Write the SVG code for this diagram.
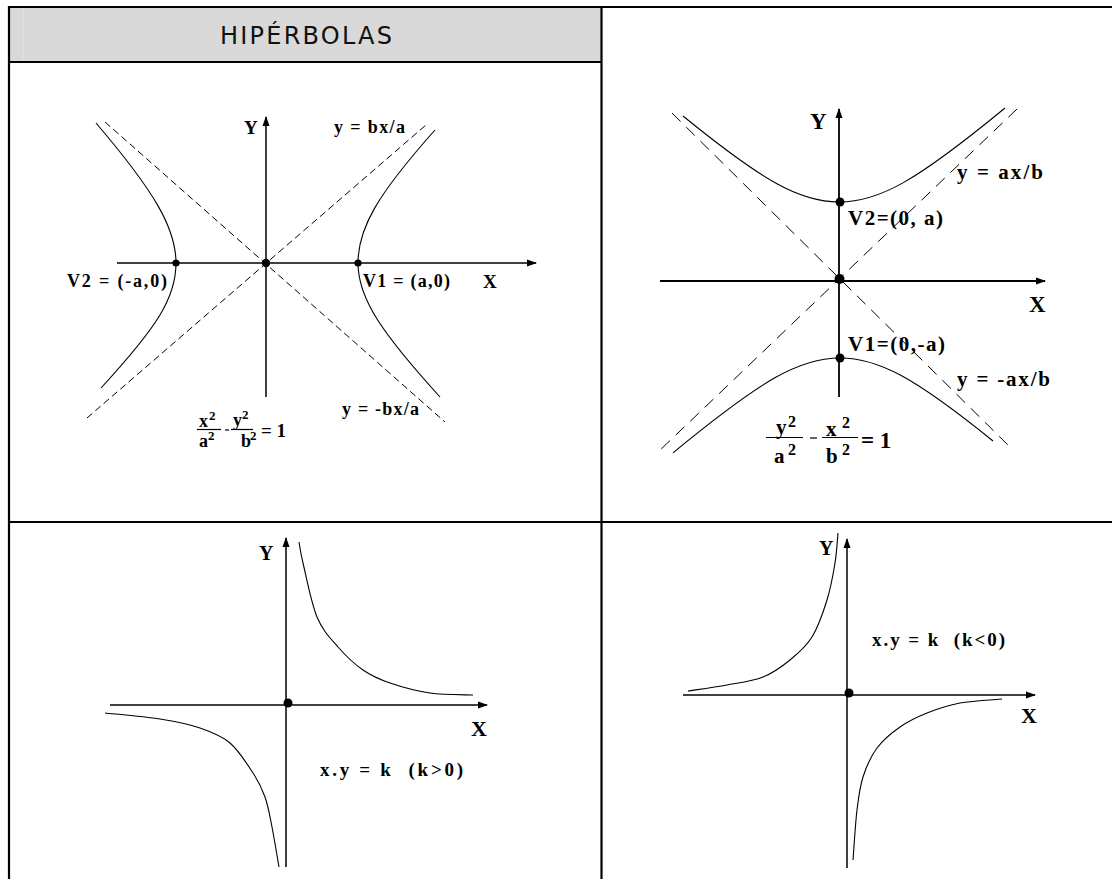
<svg xmlns="http://www.w3.org/2000/svg" width="1112" height="879" viewBox="0 0 1112 879">
<style>
.grid{stroke:#000;stroke-width:2.2;fill:none}
.axis{stroke:#000;stroke-width:1.5;fill:none}
.axis2{stroke:#000;stroke-width:1.8;fill:none}
.curve{stroke:#000;stroke-width:1.1;fill:none}
.dash1{stroke:#000;stroke-width:1;fill:none;stroke-dasharray:7 4}
.dash2{stroke:#000;stroke-width:1;fill:none;stroke-dasharray:12 8}
.lbl{font-family:"Liberation Serif","Times New Roman",serif;font-weight:bold;fill:#000}
.frac{stroke:#000;stroke-width:1.2}
.title{font-family:"DejaVu Sans","Verdana",sans-serif;font-size:24px;fill:#111}
</style>
<defs>
<marker id="arr" markerUnits="userSpaceOnUse" markerWidth="11" markerHeight="8" refX="9" refY="4" orient="auto">
<path d="M0,0.5 L10,4 L0,7.5 z" fill="#000"/>
</marker>
</defs>
<rect width="1112" height="879" fill="#fff"/>

<g id="header">
<rect x="10" y="8" width="591" height="54" fill="#d9d9d9"/>
<line x1="23.5" y1="8" x2="23.5" y2="61" stroke="#e3e3e3" stroke-width="1"/>
<text class="title" x="306" y="44" text-anchor="middle" textLength="172">HIPÉRBOLAS</text>
</g>

<g id="connectors">
<line class="grid" x1="8" y1="7" x2="1112" y2="7"/>
<line class="grid" x1="9" y1="6" x2="9" y2="879"/>
<line class="grid" x1="8" y1="62" x2="602" y2="62"/>
<line class="grid" x1="601.5" y1="6" x2="601.5" y2="879"/>
<line class="grid" x1="8" y1="522" x2="1112" y2="522"/>
</g>

<g id="plot-horizontal-hyperbola">
<path class="axis" d="M117,263 H536" marker-end="url(#arr)"/>
<path class="axis" d="M266,397 V117" marker-end="url(#arr)"/>
<path class="dash1" d="M87,418 L426,125"/>
<path class="dash1" d="M105,122 L445,422"/>
<path class="curve" d="M435,130 C377.5,194.6 358,228 358,263 C358,298 381,332 440,397"/>
<path class="curve" d="M96,123 C154,191 176,228 176,263 C176,298 157,327 101,388"/>
<circle cx="266" cy="263" r="4.2"/>
<circle cx="176" cy="263" r="3.6"/>
<circle cx="358" cy="263" r="3.6"/>
<text class="lbl" x="244" y="134" font-size="19">Y</text>
<text class="lbl" x="334" y="133" font-size="18" textLength="71">y = bx/a</text>
<text class="lbl" x="67" y="287" font-size="18" textLength="100">V2 = (-a,0)</text>
<text class="lbl" x="363" y="287" font-size="18" textLength="87">V1 = (a,0)</text>
<text class="lbl" x="483" y="288" font-size="19">X</text>
<text class="lbl" x="342" y="415" font-size="18" textLength="77">y = -bx/a</text>
<text class="lbl" x="199" y="427" font-size="18">x</text>
<text class="lbl" x="209" y="420" font-size="13">2</text>
<line class="frac" x1="197" y1="429.5" x2="221" y2="429.5"/>
<text class="lbl" x="199" y="447" font-size="18">a</text>
<text class="lbl" x="208" y="440" font-size="13">2</text>
<line class="frac" x1="225" y1="430" x2="229" y2="430"/>
<text class="lbl" x="233" y="426" font-size="18">y</text>
<text class="lbl" x="242" y="419" font-size="13">2</text>
<line class="frac" x1="231" y1="429.5" x2="253" y2="429.5"/>
<text class="lbl" x="241" y="447" font-size="18">b</text>
<text class="lbl" x="250" y="440" font-size="13">2</text>
<text class="lbl" x="261" y="437" font-size="19">= 1</text>
</g>

<g id="plot-vertical-hyperbola">
<path class="axis2" d="M660,281 H1045" marker-end="url(#arr)"/>
<path class="axis2" d="M839,397 V109" marker-end="url(#arr)"/>
<path class="dash2" d="M672,113 L1010,447"/>
<path class="dash2" d="M1017,109 L657,453"/>
<path class="curve" d="M683,116 C764.2,182.1 800.3,202 839,202 C879.2,202 916.3,181 1005,108"/>
<path class="curve" d="M673,452.8 C762.4,379.2 799.6,358 840,358 C878.2,358 914,377.1 993,441"/>
<circle cx="839.5" cy="279" r="5"/>
<circle cx="840" cy="202" r="4.5"/>
<circle cx="840" cy="358" r="4.5"/>
<text class="lbl" x="810" y="129" font-size="23">Y</text>
<text class="lbl" x="957" y="179" font-size="21" textLength="86">y = ax/b</text>
<text class="lbl" x="848" y="225" font-size="21" textLength="95">V2=(0, a)</text>
<text class="lbl" x="1029" y="312" font-size="23">X</text>
<text class="lbl" x="848" y="351" font-size="21" textLength="97">V1=(0,-a)</text>
<text class="lbl" x="957" y="386" font-size="21" textLength="93">y = -ax/b</text>
<text class="lbl" x="776" y="434" font-size="21">y</text>
<text class="lbl" x="788" y="427" font-size="16">2</text>
<line class="frac" x1="766" y1="437.5" x2="803" y2="437.5"/>
<text class="lbl" x="774" y="463" font-size="21">a</text>
<text class="lbl" x="788" y="455" font-size="16">2</text>
<line class="frac" x1="810" y1="438" x2="817" y2="438"/>
<text class="lbl" x="826" y="436" font-size="21">x</text>
<text class="lbl" x="842" y="428" font-size="16">2</text>
<line class="frac" x1="822" y1="437.5" x2="858" y2="437.5"/>
<text class="lbl" x="826" y="463" font-size="21">b</text>
<text class="lbl" x="842" y="455" font-size="16">2</text>
<text class="lbl" x="861" y="448" font-size="23">= 1</text>
</g>

<g id="plot-xy-positive">
<path class="axis" d="M110,705 H487" marker-end="url(#arr)"/>
<path class="axis" d="M286,867 V538" marker-end="url(#arr)"/>
<path class="curve" d="M299,542 C299.7,545.5 300,550.5 303,563 C306,575.5 311.2,603 317,617 C322.8,631 330.3,638.2 338,647 C345.7,655.8 354.3,664 363,670 C371.7,676 378.8,679.2 390,683 C401.2,686.8 416.2,691 430,693 C443.8,695 465.8,694.7 473,695"/>
<path class="curve" d="M105,713 C114.2,714 144.2,716.5 160,719 C175.8,721.5 188.3,724 200,728 C211.7,732 221.2,735.5 230,743 C238.8,750.5 247.2,764 253,773 C258.8,782 261.8,788 265,797 C268.2,806 269.7,815.3 272,827 C274.3,838.7 277.8,860.3 279,867"/>
<circle cx="288" cy="703" r="4.5"/>
<text class="lbl" x="259" y="560" font-size="20">Y</text>
<text class="lbl" x="471" y="736" font-size="22">X</text>
<text class="lbl" x="320" y="776" font-size="19" textLength="143">x.y = k&#160; (k&gt;0)</text>
</g>

<g id="plot-xy-negative">
<path class="axis" d="M683,695 H1035" marker-end="url(#arr)"/>
<path class="axis" d="M847,868 V539" marker-end="url(#arr)"/>
<path class="curve" d="M688,691 C694.5,690 714.5,687.3 727,685 C739.5,682.7 752.5,681.2 763,677 C773.5,672.8 781.8,666.7 790,660 C798.2,653.3 805.8,647 812,637 C818.2,627 823.2,612.3 827,600 C830.8,587.7 833.2,574.2 835,563 C836.8,551.8 837.5,538 838,533"/>
<path class="curve" d="M1002,699 C995,699.7 972.5,700.7 960,703 C947.5,705.3 937,709 927,713 C917,717 908.3,721.2 900,727 C891.7,732.8 883.2,739.7 877,748 C870.8,756.3 866.3,766.7 863,777 C859.7,787.3 858.7,796.2 857,810 C855.3,823.8 853.7,851.7 853,860"/>
<circle cx="849" cy="693" r="4.5"/>
<text class="lbl" x="819" y="555" font-size="20">Y</text>
<text class="lbl" x="1021" y="723" font-size="22">X</text>
<text class="lbl" x="872" y="646" font-size="19" textLength="133">x.y = k&#160; (k&lt;0)</text>
</g>
</svg>
